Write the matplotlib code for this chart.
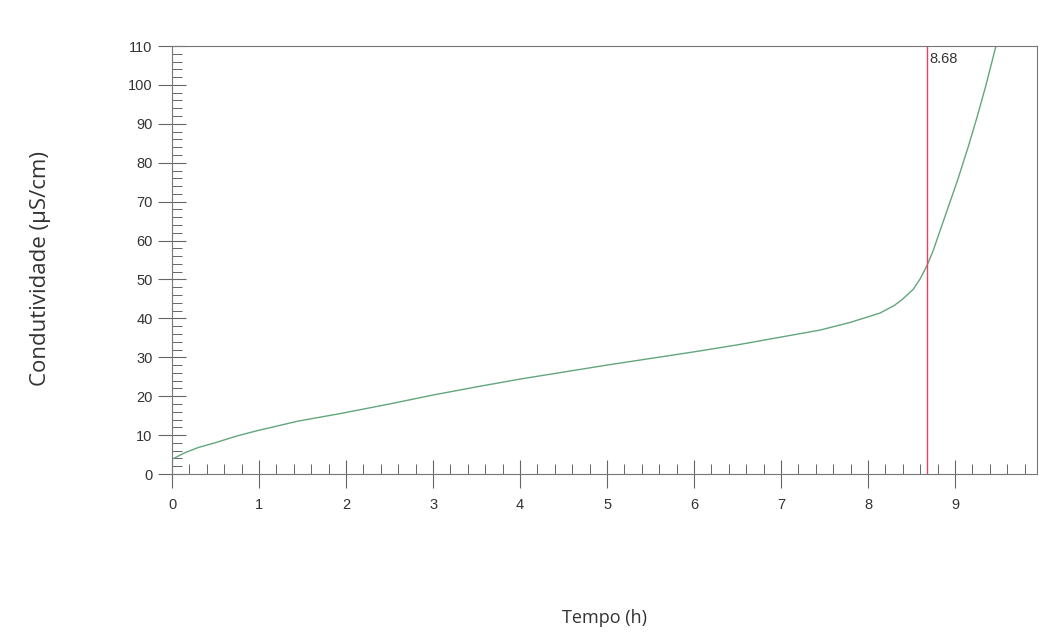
import matplotlib.pyplot as plt
from matplotlib.ticker import MultipleLocator

plt.rcParams['font.family'] = ['Liberation Sans', 'DejaVu Sans']

# values
tempo = [0.0, 0.15, 0.3, 0.49, 0.75, 0.99, 1.45, 1.95, 2.5, 3.0, 3.5, 4.0, 4.5, 5.0,
         5.5, 6.0, 6.5, 7.0, 7.45, 7.8, 8.0, 8.14, 8.3, 8.4, 8.52, 8.6, 8.68,
         8.75, 8.83, 8.92, 9.03, 9.15, 9.25, 9.35, 9.47]
condut = [3.8, 5.5, 6.8, 8.0, 9.8, 11.2, 13.6, 15.6, 18.0, 20.3, 22.4, 24.4, 26.2, 28.0,
          29.7, 31.4, 33.2, 35.2, 37.0, 39.0, 40.4, 41.4, 43.3, 45.0, 47.5, 50.2, 53.7,
          57.5, 62.7, 68.5, 75.6, 84.0, 91.5, 99.5, 110.0]

marcador = 8.68
x_ticks = [0, 1, 2, 3, 4, 5, 6, 7, 8, 9]
y_ticks = [0, 10, 20, 30, 40, 50, 60, 70, 80, 90, 100, 110]

fig = plt.figure(figsize=(10.58, 6.41), dpi=100)
ax = fig.add_axes([0.1626, 0.2605, 0.8174, 0.6677])

ax.plot(tempo, condut, color='#62a67c', linewidth=1.0)
ax.axvline(marcador, color='#e8435a', linewidth=1.0)
ax.text(marcador + 0.03, 108.5, '%.2f' % marcador, fontsize=10.5, color='#333333',
        va='top', ha='left')

ax.set_xlim(0, 9.94)
ax.set_ylim(0, 110)
ax.set_xticks(x_ticks)
ax.set_yticks(y_ticks)
ax.xaxis.set_minor_locator(MultipleLocator(0.2))
ax.yaxis.set_minor_locator(MultipleLocator(2))

ax.tick_params(which='major', direction='inout', length=20, width=0.8,
               color='#666666', labelsize=10.5, labelcolor='#333333')
ax.tick_params(axis='x', which='major', pad=7)
ax.tick_params(axis='y', which='major', pad=4)
ax.tick_params(which='minor', direction='in', length=7, width=0.7, color='#666666')

for side in ['left', 'bottom', 'right', 'top']:
    ax.spines[side].set_color('#777777')
    ax.spines[side].set_linewidth(0.8)
ax.spines['top'].set_linestyle((0, (2, 1)))

ax.set_xlabel('Tempo (h)', fontsize=13, color='#333333', family=['Open Sans', 'DejaVu Sans'],
              va='top')
ax.xaxis.set_label_coords(0.5, -0.315)
ax.set_ylabel('Condutividade (µS/cm)', fontsize=16, color='#333333',
              family=['Open Sans', 'DejaVu Sans'], va='center')
ax.yaxis.set_label_coords(-0.152, 0.48)

fig.savefig('out.png', dpi=100)
